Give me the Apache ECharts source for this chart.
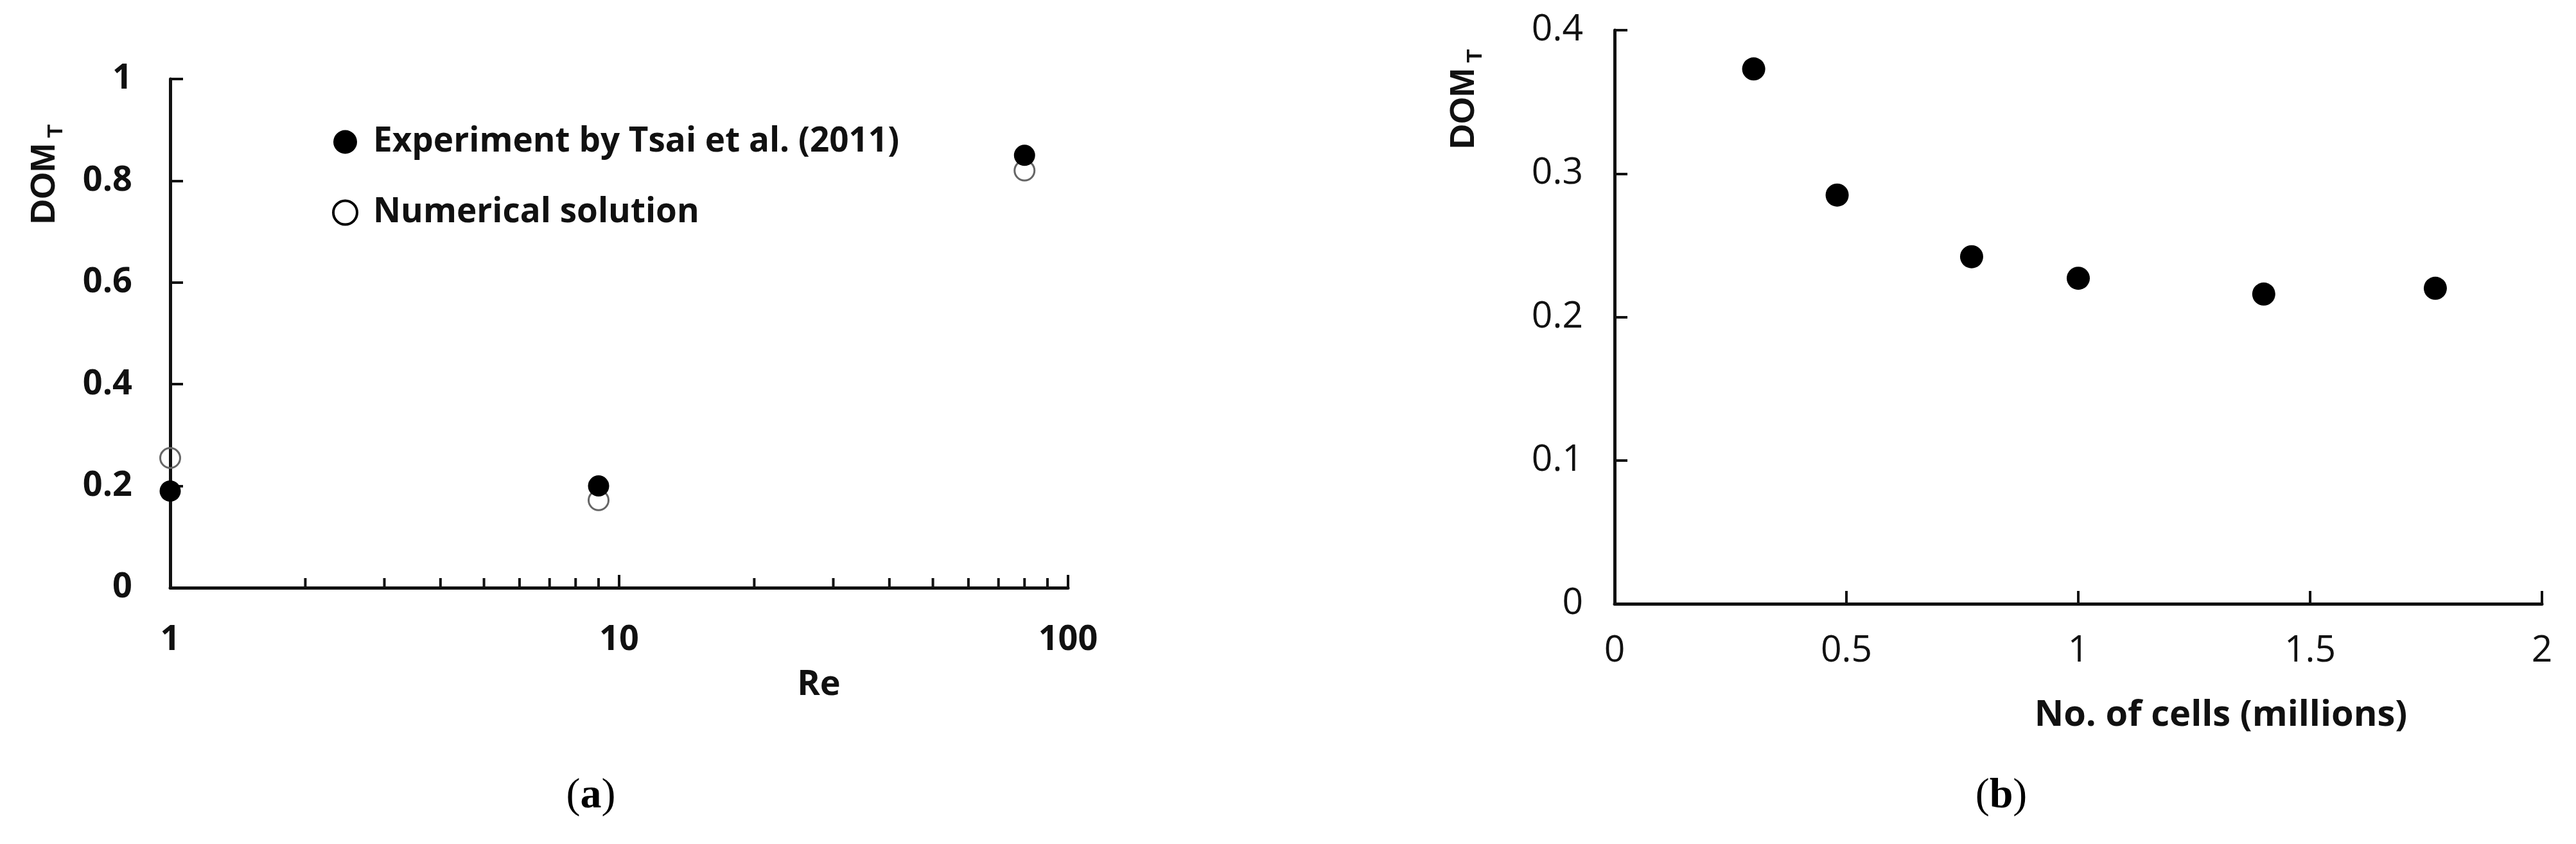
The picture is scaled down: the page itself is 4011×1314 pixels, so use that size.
<!DOCTYPE html>
<html>
<head>
<meta charset="utf-8">
<script src="https://cdn.jsdelivr.net/npm/echarts@6/dist/echarts.min.js"></script>
<style>
  html, body { margin: 0; padding: 0; background: #fff; }
  #chart { width: 4011px; height: 1314px; }
</style>
</head>
<body>
<div id="chart"></div>
<script>
// (a) DOM_T against Reynolds number
const reValues = [1, 9, 80];
const domExperiment = [0.19, 0.20, 0.85];
const domNumerical = [0.255, 0.172, 0.82];
const reMinorTicks = [2, 3, 4, 5, 6, 7, 8, 9, 20, 30, 40, 50, 60, 70, 80, 90];

// (b) DOM_T against mesh size
const cellsMillions = [0.30, 0.48, 0.77, 1.00, 1.40, 1.77];
const domMesh = [0.373, 0.285, 0.242, 0.227, 0.216, 0.220];

const seriesNames = ['Experiment by Tsai et al. (2011)', 'Numerical solution'];

const ink = '#111';
const axisLine = { show: true, onZero: false, lineStyle: { color: ink, width: 5 } };
const axisTick = { show: true, inside: true, length: 20, lineStyle: { color: ink, width: 4 } };
const boldLabel = { fontFamily: 'Open Sans', fontWeight: 'bold', fontSize: 54, color: ink };
const plainLabel = { fontFamily: 'Open Sans', fontWeight: 'normal', fontSize: 57, color: ink };

const chart = echarts.init(document.getElementById('chart'), null, { renderer: 'canvas' });

const option = {
    backgroundColor: '#fff',
    animation: false,
    grid: [
        { left: 265, top: 123, width: 1398, height: 792 },
        { left: 2514, top: 47, width: 1444, height: 893 }
    ],
    xAxis: [
        {
            gridIndex: 0, type: 'log', logBase: 10, min: 1, max: 100,
            axisLine: axisLine, axisTick: axisTick, splitLine: { show: false },
            axisLabel: Object.assign({ margin: 55 }, boldLabel)
        },
        {
            gridIndex: 1, type: 'value', min: 0, max: 2, interval: 0.5,
            axisLine: axisLine, axisTick: axisTick, splitLine: { show: false },
            axisLabel: Object.assign({ margin: 45 }, plainLabel)
        }
    ],
    yAxis: [
        {
            gridIndex: 0, type: 'value', min: 0, max: 1, interval: 0.2,
            axisLine: axisLine, axisTick: axisTick, splitLine: { show: false },
            axisLabel: Object.assign({ margin: 59 }, boldLabel)
        },
        {
            gridIndex: 1, type: 'value', min: 0, max: 0.4, interval: 0.1,
            axisLine: axisLine, axisTick: axisTick, splitLine: { show: false },
            axisLabel: Object.assign({ margin: 49 }, plainLabel)
        }
    ],
    legend: {
        orient: 'vertical',
        left: 512,
        top: 186,
        itemWidth: 37,
        itemHeight: 37,
        itemGap: 50,
        selectedMode: false,
        textStyle: { fontFamily: 'Open Sans', fontWeight: 'bold', fontSize: 53, color: ink, lineHeight: 60, padding: [0, 0, 0, 20] },
        data: [
            { name: seriesNames[0], icon: 'circle', itemStyle: { color: '#000', borderWidth: 0, opacity: 1 } },
            { name: seriesNames[1], icon: 'circle', itemStyle: { color: '#fff', borderColor: '#000', borderWidth: 4, opacity: 1 } }
        ]
    },
    series: [
        {
            // minor ticks of the log axis (2..9, 20..90)
            type: 'scatter', xAxisIndex: 0, yAxisIndex: 0, silent: true,
            symbol: 'rect', symbolSize: [4, 15], symbolOffset: [0, -7.5],
            itemStyle: { color: ink, opacity: 1 },
            data: reMinorTicks.map(v => [v, 0])
        },
        {
            name: seriesNames[1],
            type: 'scatter', xAxisIndex: 0, yAxisIndex: 0,
            symbol: 'circle', symbolSize: 31,
            itemStyle: { color: 'rgba(0,0,0,0)', borderColor: '#666', borderWidth: 3, opacity: 1 },
            data: reValues.map((v, i) => [v, domNumerical[i]])
        },
        {
            name: seriesNames[0],
            type: 'scatter', xAxisIndex: 0, yAxisIndex: 0,
            symbol: 'circle', symbolSize: 33,
            itemStyle: { color: '#000', opacity: 1 },
            data: reValues.map((v, i) => [v, domExperiment[i]])
        },
        {
            name: 'Mesh',
            type: 'scatter', xAxisIndex: 1, yAxisIndex: 1,
            symbol: 'circle', symbolSize: 36,
            itemStyle: { color: '#000', opacity: 1 },
            data: cellsMillions.map((v, i) => [v, domMesh[i]])
        }
    ],
    graphic: [
        // y axis titles (DOM with subscript T), rotated
        { type: 'text', x: 70, y: 286, rotation: Math.PI / 2,
          style: { text: 'DOM', fontFamily: 'Liberation Sans', fontWeight: 'bold', fontSize: 54, fill: ink, align: 'center', verticalAlign: 'middle' } },
        { type: 'text', x: 88, y: 204, rotation: Math.PI / 2,
          style: { text: 'T', fontFamily: 'Liberation Sans', fontWeight: 'bold', fontSize: 34, fill: ink, align: 'center', verticalAlign: 'middle' } },
        { type: 'text', x: 2280, y: 169, rotation: Math.PI / 2,
          style: { text: 'DOM', fontFamily: 'Liberation Sans', fontWeight: 'bold', fontSize: 54, fill: ink, align: 'center', verticalAlign: 'middle' } },
        { type: 'text', x: 2298, y: 87, rotation: Math.PI / 2,
          style: { text: 'T', fontFamily: 'Liberation Sans', fontWeight: 'bold', fontSize: 34, fill: ink, align: 'center', verticalAlign: 'middle' } },
        // x axis titles
        { type: 'text', x: 1275, y: 1067,
          style: { text: 'Re', fontFamily: 'Open Sans', fontWeight: 'bold', fontSize: 54, fill: ink, align: 'center', verticalAlign: 'middle' } },
        { type: 'text', x: 3458, y: 1114,
          style: { text: 'No. of cells (millions)', fontFamily: 'Open Sans', fontWeight: 'bold', fontSize: 56, fill: ink, align: 'center', verticalAlign: 'middle' } },
        // panel captions
        { type: 'text', x: 920, y: 1240,
          style: { text: '{p|(}{b|a}{p|)}', align: 'center', verticalAlign: 'middle',
                   rich: { p: { fontFamily: 'Liberation Serif', fontSize: 66, fill: '#000' },
                           b: { fontFamily: 'Liberation Serif', fontWeight: 'bold', fontSize: 66, fill: '#000' } } } },
        { type: 'text', x: 3116, y: 1240,
          style: { text: '{p|(}{b|b}{p|)}', align: 'center', verticalAlign: 'middle',
                   rich: { p: { fontFamily: 'Liberation Serif', fontSize: 66, fill: '#000' },
                           b: { fontFamily: 'Liberation Serif', fontWeight: 'bold', fontSize: 66, fill: '#000' } } } }
    ]
};

chart.setOption(option);
window.addEventListener('resize', chart.resize);
</script>
</body>
</html>
